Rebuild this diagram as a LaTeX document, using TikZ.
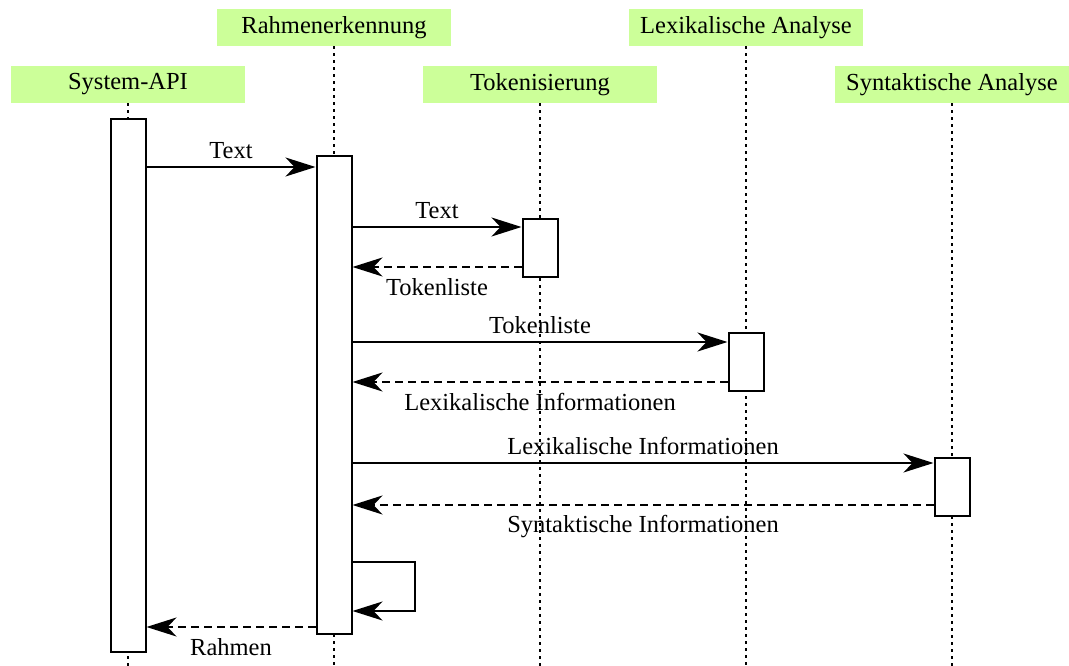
\documentclass[tikz,border=0pt]{standalone}
\usepackage{fontspec}
\setmainfont{Liberation Serif}
\usetikzlibrary{arrows.meta}
\definecolor{headgreen}{HTML}{CCFF99}
\begin{document}
\begin{tikzpicture}[x=1pt,y=-1pt,
  font=\fontsize{24.5}{29}\selectfont,
  head/.style={fill=headgreen, minimum width=234pt, minimum height=37pt, inner sep=0pt},
  life/.style={line width=2pt, dash pattern=on 3pt off 4pt},
  act/.style={draw, line width=2pt, fill=white, minimum width=35pt, inner sep=0pt},
  msg/.style={line width=2pt, -{Stealth[length=30pt,width=19pt,inset=9pt]}},
  reply/.style={msg, dash pattern=on 8pt off 5pt},
  lbl/.style={inner sep=3pt}]

\useasboundingbox (0,0) rectangle (1069,666);

% participant headers
\node[head] (h1) at (128,84.5) {System-API};
\node[head] (h2) at (334,27.5) {Rahmenerkennung};
\node[head] (h3) at (540,84.5) {Tokenisierung};
\node[head] (h4) at (746,27.5) {Lexikalische Analyse};
\node[head] (h5) at (952,84.5) {Syntaktische Analyse};

% bottom of the lifelines and message levels
\coordinate (bottom) at (0,666);
\coordinate (m1) at (0,167);
\coordinate (m2) at (0,227);
\coordinate (m3) at (0,267);
\coordinate (m4) at (0,342);
\coordinate (m5) at (0,382);
\coordinate (m6) at (0,463);
\coordinate (m7) at (0,505);
\coordinate (m8) at (0,562);
\coordinate (m9) at (0,611);
\coordinate (m10) at (0,627);

% lifelines
\foreach \h in {h1,h2,h3,h4,h5}
  \draw[life] (\h.south) -- (\h.south |- bottom);

% activation bars
\node[act, minimum height=533pt] (a1) at (128,385.5) {};
\node[act, minimum height=478pt] (a2) at (334,395) {};
\node[act, minimum height=58pt] (a3) at (540,248) {};
\node[act, minimum height=58pt] (a4) at (746,362) {};
\node[act, minimum height=58pt] (a5) at (952,487) {};

% messages
\draw[msg] (a1.east |- m1) -- node[midway, above=4pt, lbl] {Text} (a2.west |- m1);
\draw[msg] (a2.east |- m2) -- node[midway, above=4pt, lbl] {Text} (a3.west |- m2);
\draw[reply] (a3.west |- m3) -- node[midway, below=7pt, lbl] {Tokenliste} (a2.east |- m3);
\draw[msg] (a2.east |- m4) -- node[midway, above=4pt, lbl] {Tokenliste} (a4.west |- m4);
\draw[reply] (a4.west |- m5) -- node[midway, below=7pt, lbl] {Lexikalische Informationen} (a2.east |- m5);
\draw[msg] (a2.east |- m6) -- node[midway, above=4pt, lbl] {Lexikalische Informationen} (a5.west |- m6);
\draw[reply] (a5.west |- m7) -- node[midway, below=6pt, lbl] {Syntaktische Informationen} (a2.east |- m7);
\draw[msg] (a2.east |- m8) -- ++(62,0) |- (a2.east |- m9);
\draw[reply] (a2.west |- m10) -- node[midway, below=7pt, lbl] {Rahmen} (a1.east |- m10);
\end{tikzpicture}
\end{document}
